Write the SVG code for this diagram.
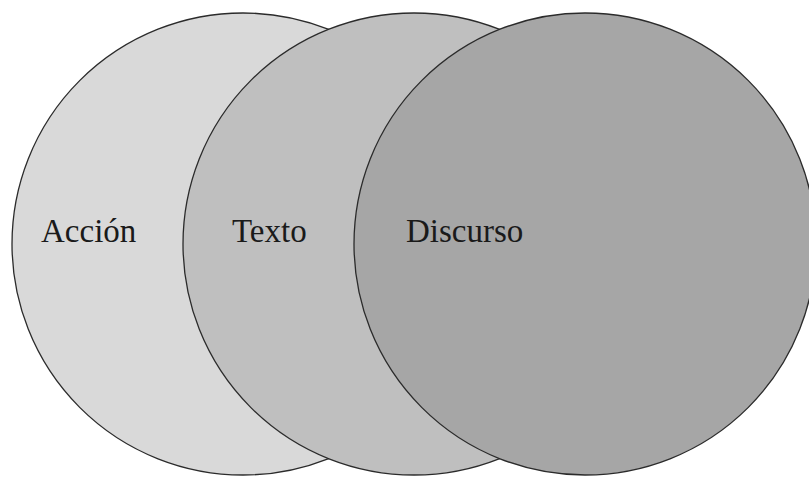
<svg xmlns="http://www.w3.org/2000/svg" width="809" height="477" viewBox="0 0 809 477">
  <style>
    .ring { stroke: #2b2b2b; stroke-width: 1.3; }
    .label { font-family: "Liberation Serif", "Times New Roman", serif; font-size: 33px; fill: #1a1a1a; }
  </style>
  <rect width="809" height="477" fill="#ffffff"/>
  <g id="accion">
    <circle class="ring" cx="243" cy="244" r="231" fill="#d9d9d9"/>
    <text class="label" x="41" y="242">Acción</text>
  </g>
  <g id="texto">
    <circle class="ring" cx="414" cy="244" r="231" fill="#bfbfbf"/>
    <text class="label" x="232" y="242">Texto</text>
  </g>
  <g id="discurso">
    <circle class="ring" cx="585" cy="244" r="231" fill="#a6a6a6"/>
    <text class="label" x="406" y="242">Discurso</text>
  </g>
  <g id="connectors"/>
</svg>
